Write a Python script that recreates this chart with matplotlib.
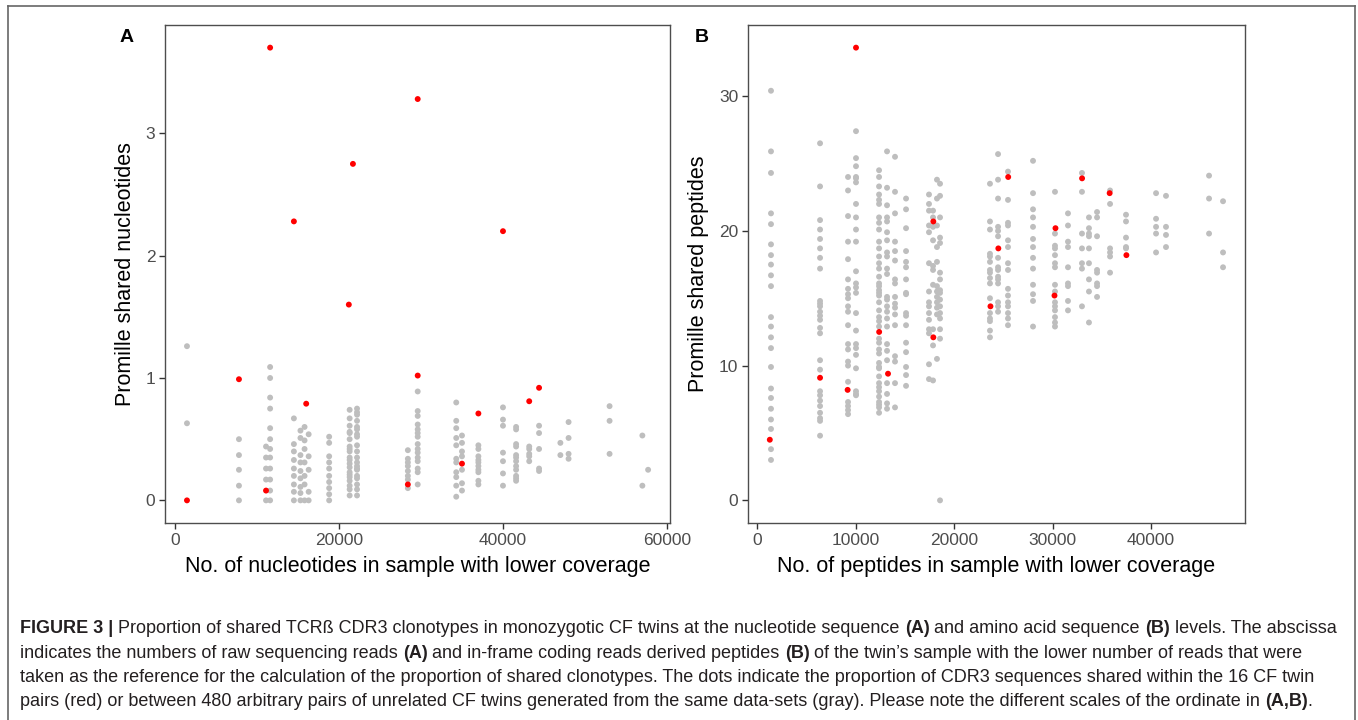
import matplotlib
matplotlib.use('Agg')
import matplotlib.pyplot as plt
from matplotlib.transforms import IdentityTransform
from matplotlib.lines import Line2D

plt.rcParams['font.family'] = ['Liberation Sans', 'DejaVu Sans']

# ---------------- data: panel A (nucleotides) ----------------
a_gray_x = [1460, 7800, 11100, 11600, 14500, 15300, 15800, 16300, 18800,
            21300, 22200, 28400, 29600, 34300, 35000, 37000, 40000, 41600,
            43200, 44400, 47000, 48000, 53000, 57000, 57700]
a_gray_y = [
    [1.26, 0.63],
    [0.50, 0.37, 0.25, 0.12, 0.0],
    [0.44, 0.35, 0.26, 0.17, 0.0],
    [1.09, 1.00, 0.84, 0.75, 0.59, 0.50, 0.42, 0.35, 0.26, 0.17, 0.08, 0.0],
    [0.67, 0.46, 0.40, 0.33, 0.26, 0.20, 0.13, 0.07, 0.0],
    [0.57, 0.51, 0.37, 0.31, 0.24, 0.18, 0.11, 0.06, 0.0],
    [0.60, 0.49, 0.42, 0.31, 0.20, 0.13, 0.0],
    [0.54, 0.36, 0.25, 0.07, 0.0],
    [0.52, 0.47, 0.36, 0.31, 0.26, 0.20, 0.15, 0.10, 0.05, 0.0],
    [0.74, 0.67, 0.61, 0.56, 0.55, 0.50, 0.44, 0.42, 0.40, 0.35, 0.33, 0.30,
     0.27, 0.23, 0.21, 0.19, 0.16, 0.12, 0.09, 0.04],
    [0.75, 0.72, 0.70, 0.65, 0.60, 0.58, 0.54, 0.52, 0.45, 0.40, 0.35, 0.31,
     0.28, 0.26, 0.25, 0.20, 0.18, 0.13, 0.09, 0.04],
    [0.41, 0.34, 0.31, 0.28, 0.24, 0.20, 0.17, 0.10],
    [0.89, 0.73, 0.69, 0.62, 0.58, 0.55, 0.52, 0.46, 0.42, 0.39, 0.35, 0.32,
     0.26, 0.23, 0.13],
    [0.80, 0.65, 0.59, 0.51, 0.45, 0.34, 0.31, 0.23, 0.19, 0.12, 0.03],
    [0.53, 0.47, 0.40, 0.36, 0.25, 0.14, 0.08],
    [0.45, 0.42, 0.36, 0.33, 0.31, 0.28, 0.25, 0.23, 0.16, 0.13],
    [0.76, 0.66, 0.61, 0.39, 0.32, 0.22, 0.12],
    [0.60, 0.58, 0.46, 0.44, 0.37, 0.35, 0.32, 0.28, 0.25, 0.20, 0.18, 0.16],
    [0.44, 0.42, 0.38, 0.36, 0.32],
    [0.61, 0.55, 0.42, 0.26, 0.24],
    [0.47, 0.37],
    [0.64, 0.51, 0.38, 0.34],
    [0.77, 0.65, 0.38],
    [0.53, 0.12],
    [0.25],
]
a_red_x = [1460, 7800, 11100, 11600, 14500, 16000, 21200, 21700, 28400,
           29600, 29600, 35000, 37000, 40000, 43200, 44400]
a_red_y = [0.0, 0.99, 0.08, 3.70, 2.28, 0.79, 1.60, 2.75, 0.13, 3.28, 1.02,
           0.30, 0.71, 2.20, 0.81, 0.92]

# ---------------- data: panel B (peptides) ----------------
b_gray_x = [1420, 6400, 9240, 10050, 12390, 13200, 14010, 15130, 17460,
            17870, 18270, 18580, 23650, 24470, 25480, 28020, 30250, 31570,
            32990, 33700, 34520, 35840, 37460, 40510, 41520, 45890, 47310]
b_gray_y = [
    [30.4, 25.9, 24.3, 21.3, 20.5, 19.0, 18.2, 17.5, 16.7, 15.9, 13.6, 12.9,
     12.1, 11.3, 9.9, 8.3, 7.6, 6.8, 6.0, 5.3, 3.8, 3.0],
    [26.5, 23.3, 20.8, 20.1, 19.4, 18.7, 18.0, 17.2, 14.8, 14.6, 14.4, 14.0,
     13.7, 13.4, 12.8, 12.4, 10.4, 9.7, 8.1, 7.8, 7.4, 7.0, 6.5, 6.1, 5.9, 4.8],
    [24.0, 23.0, 21.1, 19.2, 17.9, 16.4, 15.7, 15.3, 15.0, 14.4, 14.0, 13.0,
     11.6, 11.2, 10.3, 10.0, 8.8, 7.3, 7.0, 6.7, 6.4],
    [27.4, 25.4, 24.8, 24.0, 23.9, 23.6, 22.0, 21.0, 20.1, 19.2, 17.0, 16.1,
     15.8, 15.4, 13.9, 12.6, 11.6, 11.3, 10.8, 9.8, 8.1, 7.9, 7.8],
    [24.5, 24.0, 23.3, 22.7, 22.3, 22.0, 21.0, 20.6, 20.1, 19.2, 18.7, 18.1,
     17.6, 17.2, 16.6, 16.1, 15.9, 15.6, 15.4, 15.2, 14.7, 14.1, 13.6, 13.3,
     12.9, 12.0, 11.7, 11.2, 10.9, 10.2, 9.9, 9.8, 9.2, 8.7, 8.4, 8.1, 7.7,
     7.3, 7.1, 6.9, 6.5],
    [25.9, 23.2, 21.9, 21.0, 20.7, 19.9, 19.3, 18.4, 18.1, 17.2, 16.8, 15.1,
     14.9, 14.4, 14.0, 13.5, 12.9, 11.6, 11.1, 10.4, 8.7, 7.9, 7.2, 6.8],
    [25.5, 22.9, 21.3, 19.2, 18.5, 17.8, 16.4, 16.1, 15.1, 14.6, 14.3, 13.8,
     13.0, 10.7, 10.3, 8.7, 6.9],
    [22.4, 21.6, 20.2, 18.5, 17.7, 17.3, 16.4, 15.4, 15.3, 13.9, 13.7, 13.0,
     11.7, 11.0, 9.9, 9.3, 8.5],
    [22.7, 22.0, 21.5, 20.4, 19.9, 17.6, 15.5, 14.7, 14.4, 13.9, 13.4, 12.7,
     12.4, 10.1, 9.0],
    [21.5, 21.0, 20.3, 19.3, 17.4, 17.1, 16.0, 12.7, 11.5, 8.9],
    [23.8, 22.4, 20.4, 18.8, 17.7, 15.9, 15.5, 15.1, 14.7, 14.3, 13.8, 10.5],
    [23.5, 22.6, 21.0, 19.5, 19.1, 16.9, 16.4, 15.6, 15.4, 14.9, 14.4, 13.9,
     13.5, 12.7, 12.0, 0.0],
    [23.5, 20.7, 20.1, 18.3, 18.1, 17.7, 17.1, 16.9, 16.5, 16.1, 15.0, 13.9,
     13.5, 13.3, 12.6, 12.1],
    [25.7, 23.8, 22.4, 20.3, 20.0, 19.6, 18.0, 17.3, 17.1, 16.6, 16.4, 16.1,
     14.7, 14.4, 14.0],
    [24.4, 22.3, 20.6, 20.4, 19.3, 18.8, 17.6, 17.1, 15.7, 15.2, 14.7, 14.4,
     13.9, 13.5, 13.0],
    [25.2, 22.8, 21.6, 21.0, 20.3, 19.4, 18.8, 18.0, 17.2, 16.0, 15.3, 14.8,
     12.9],
    [22.9, 19.8, 18.9, 18.7, 18.2, 17.6, 17.3, 16.0, 15.5, 14.7, 14.4, 14.1,
     13.6, 13.2, 12.9],
    [21.3, 20.4, 19.2, 18.8, 17.3, 16.1, 15.9, 14.8, 14.1],
    [24.3, 22.9, 19.8, 18.7, 17.6, 17.2, 14.4],
    [21.0, 20.2, 19.8, 19.6, 18.7, 17.6, 16.4, 15.5, 13.2],
    [21.4, 21.0, 19.6, 17.1, 16.9, 16.1, 15.9, 15.1],
    [23.0, 22.0, 18.7, 18.4, 18.1, 16.9],
    [21.2, 20.7, 19.5, 18.8, 18.7],
    [22.8, 20.9, 20.3, 19.8, 18.4],
    [22.6, 20.3, 19.7, 18.8],
    [24.1, 22.4, 19.8],
    [22.2, 18.4, 17.3],
]
b_red_x = [1300, 6400, 9200, 10050, 12400, 13300, 17900, 17900, 23700, 24500,
           25500, 30300, 30200, 33000, 35800, 37500]
b_red_y = [4.5, 9.1, 8.2, 33.6, 12.5, 9.4, 20.7, 12.1, 14.4, 18.7, 24.0,
           20.2, 15.2, 23.9, 22.8, 18.2]

a_xticks = [0, 20000, 40000, 60000]
a_yticks = [0, 1, 2, 3]
b_xticks = [0, 10000, 20000, 30000, 40000]
b_yticks = [0, 10, 20, 30]

a_xlabel = "No. of nucleotides in sample with lower coverage"
a_ylabel = "Promille shared nucleotides"
b_xlabel = "No. of peptides in sample with lower coverage"
b_ylabel = "Promille shared peptides"

caption_lines = [
    [("FIGURE 3 |", True), (" Proportion of shared TCRß CDR3 clonotypes in monozygotic CF twins at the nucleotide sequence ", False),
     ("(A)", True), (" and amino acid sequence ", False), ("(B)", True), (" levels. The abscissa", False)],
    [("indicates the numbers of raw sequencing reads ", False), ("(A)", True),
     (" and in-frame coding reads derived peptides ", False), ("(B)", True),
     (" of the twin\u2019s sample with the lower number of reads that were", False)],
    [("taken as the reference for the calculation of the proportion of shared clonotypes. The dots indicate the proportion of CDR3 sequences shared within the 16 CF twin", False)],
    [("pairs (red) or between 480 arbitrary pairs of unrelated CF twins generated from the same data-sets (gray). Please note the different scales of the ordinate in ", False),
     ("(A,B)", True), (".", False)],
]

# ---------------- figure ----------------
W, H = 1358, 720
fig = plt.figure(figsize=(W / 100, H / 100), dpi=100)


def px_axes(l, t, r, b):
    return fig.add_axes([l / W, 1 - b / H, (r - l) / W, (b - t) / H])


def flatten(xs, ys):
    fx, fy = [], []
    for x, col in zip(xs, ys):
        for v in col:
            fx.append(x)
            fy.append(v)
    return fx, fy


GRAY = '#BEBEBE'
RED = '#FF0000'
SPINE = '#4D4D4D'
TICKLAB = '#4D4D4D'
DOT = 18


def style(ax, xlim, ylim, xt, yt, xl, yl):
    ax.set_xlim(*xlim)
    ax.set_ylim(*ylim)
    ax.set_xticks(xt)
    ax.set_yticks(yt)
    ax.set_xticklabels([str(v) for v in xt])
    ax.set_yticklabels([str(v) for v in yt])
    for s in ax.spines.values():
        s.set_color(SPINE)
        s.set_linewidth(1.0)
    ax.tick_params(axis='both', direction='out', length=4, width=1.0,
                   color='#333333', labelcolor=TICKLAB, labelsize=12.5, pad=3)
    ax.set_xlabel(xl, fontsize=15.5, color='black', labelpad=6)
    ax.set_ylabel(yl, fontsize=15.5, color='black', labelpad=7)


axA = px_axes(165, 25, 670, 523)
gx, gy = flatten(a_gray_x, a_gray_y)
axA.scatter(gx, gy, s=DOT, c=GRAY, edgecolors='none', zorder=2)
axA.scatter(a_red_x, a_red_y, s=DOT, c=RED, edgecolors='none', zorder=3)
style(axA, (-1220, 60370), (-0.185, 3.885), a_xticks, a_yticks, a_xlabel, a_ylabel)

axB = px_axes(748, 25, 1245, 523)
gx, gy = flatten(b_gray_x, b_gray_y)
axB.scatter(gx, gy, s=DOT, c=GRAY, edgecolors='none', zorder=2)
axB.scatter(b_red_x, b_red_y, s=DOT, c=RED, edgecolors='none', zorder=3)
style(axB, (-914, 49540), (-1.68, 35.28), b_xticks, b_yticks, b_xlabel, b_ylabel)

ident = IdentityTransform()
fig.text(127, H - 37, "A", transform=ident, fontsize=14, fontweight='bold',
         ha='center', va='center')
fig.text(702, H - 37, "B", transform=ident, fontsize=14, fontweight='bold',
         ha='center', va='center')

# outer frame
for xs, ys in [((8, 8), (-5, H - 6)), ((8, 1355), (H - 6, H - 6)),
               ((1355, 1355), (H - 6, -5))]:
    fig.add_artist(Line2D(xs, ys, transform=ident, color='#666666', lw=1.2))

# caption
renderer = fig.canvas.get_renderer()
CAPC = '#231F20'


def tw(txt, bold, size):
    t = fig.text(0, 0, txt, transform=ident, fontsize=size,
                 fontweight='bold' if bold else 'normal')
    w = t.get_window_extent(renderer).width
    t.remove()
    return w


def seg_width(txt, bold, size, spw):
    core = txt.strip(' ')
    lead = len(txt) - len(txt.lstrip(' '))
    trail = len(txt) - len(txt.rstrip(' '))
    return lead * spw, (tw(core, bold, size) if core else 0), trail * spw, core


def line_width(segs, size):
    spw = tw("a a", False, size) - tw("aa", False, size)
    tot = 0
    for txt, b in segs:
        l, c, r, _ = seg_width(txt, b, size, spw)
        tot += l + c + r
    return tot


base = 12.0
target = 1320.0
cap_size = base * target / line_width(caption_lines[0], base)

baselines = [633, 657.5, 682, 706.5]
for segs, yb in zip(caption_lines, baselines):
    spw = tw("a a", False, cap_size) - tw("aa", False, cap_size)
    x = 20.0
    for txt, b in segs:
        l, c, r, core = seg_width(txt, b, cap_size, spw)
        x += l
        if core:
            fig.text(x, H - yb, core, transform=ident, fontsize=cap_size,
                     fontweight='bold' if b else 'normal', color=CAPC,
                     ha='left', va='baseline')
        x += c + r

fig.savefig('out.png', dpi=100)
